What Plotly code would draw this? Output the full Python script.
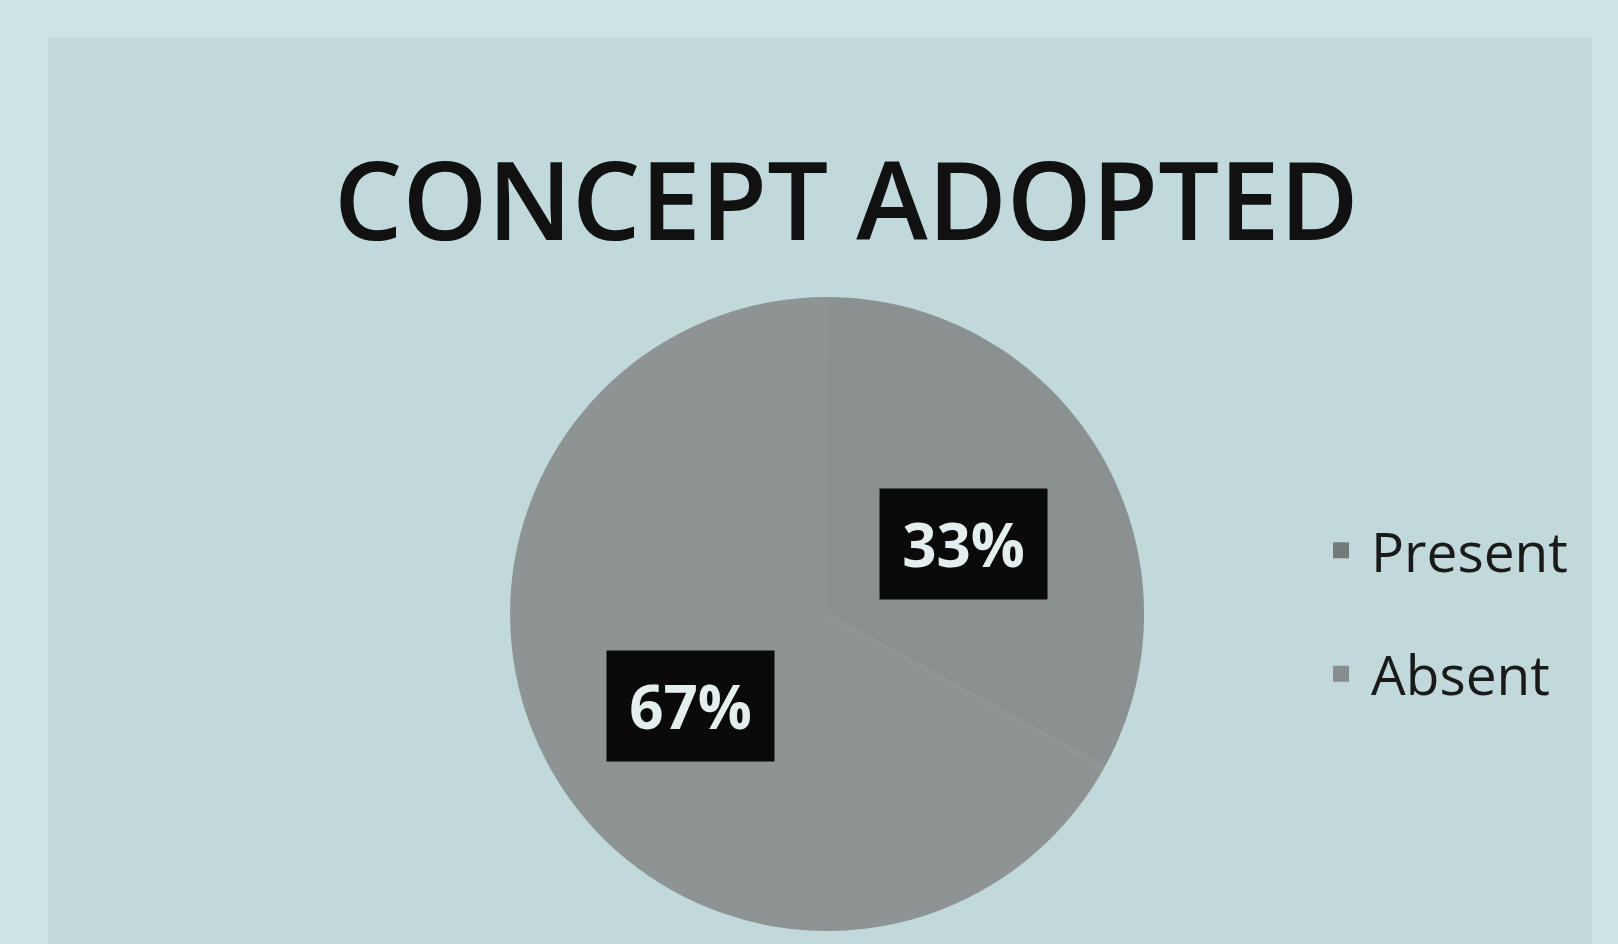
import math
import plotly.graph_objects as go

# ---- data ----
categories = ["Present", "Absent"]
values = [33, 67]
slice_colors = ["#8b9090", "#8e9393"]
legend_colors = ["#737979", "#878d8d"]
title_text = "CONCEPT ADOPTED"

W, H = 1618, 944
# pie domain (paper fractions)
dom_x = [0.3152, 0.7071]
dom_y = [0.0138, 0.6854]

fig = go.Figure()
fig.add_trace(go.Pie(
    labels=categories,
    values=values,
    sort=False,
    direction="clockwise",
    rotation=0,
    marker=dict(colors=slice_colors, line=dict(width=0)),
    textinfo="none",
    hoverinfo="label+percent",
    domain=dict(x=dom_x, y=dom_y),
    showlegend=False,
))

# legend entries (one group per category so spacing can be set)
for cat, col in zip(categories, legend_colors):
    fig.add_trace(go.Scatter(
        x=[None], y=[None], mode="markers", name=cat,
        legendgroup=cat,
        marker=dict(symbol="square", size=16, color=col),
        hoverinfo="skip",
    ))

# percentage labels in black boxes, placed from slice mid-angles
total = sum(values)
cx = (dom_x[0] + dom_x[1]) / 2
cy = (dom_y[0] + dom_y[1]) / 2
r_px = min((dom_x[1] - dom_x[0]) * W, (dom_y[1] - dom_y[0]) * H) / 2
cum = 0
annotations = []
for cat, v in zip(categories, values):
    mid = (cum + v / 2) / total * 2 * math.pi
    cum += v
    dx = 0.5 * r_px * math.sin(mid) / W
    dy = 0.5 * r_px * math.cos(mid) / H - 11 / H
    annotations.append(dict(
        x=cx + dx, y=cy + dy, xref="paper", yref="paper",
        text=f"<b>{round(v / total * 100)}%</b>",
        showarrow=False,
        font=dict(family="Open Sans", size=60, color="#e4eeee"),
        bgcolor="#0a0a0a",
        width=165, height=108,
        align="center", valign="middle",
        xanchor="center", yanchor="middle",
    ))

annotations.append(dict(
    x=846 / W, y=1 - 198 / H, xref="paper", yref="paper",
    text=title_text, showarrow=False,
    font=dict(family="Open Sans", size=108, color="#111111", weight=600),
    xanchor="center", yanchor="middle",
))

fig.update_layout(
    width=W, height=H,
    margin=dict(l=0, r=0, t=0, b=0),
    paper_bgcolor="#cde3e4",
    plot_bgcolor="rgba(0,0,0,0)",
    xaxis=dict(visible=False),
    yaxis=dict(visible=False),
    annotations=annotations,
    shapes=[dict(type="rect", xref="paper", yref="paper",
                 x0=48 / W, x1=1592 / W, y0=0, y1=1 - 38 / H,
                 fillcolor="#c2d9db", line=dict(width=0), layer="below")],
    legend=dict(
        x=1311 / W, y=1 - 508 / H, xanchor="left", yanchor="top",
        font=dict(family="Open Sans", size=55, color="#1a1a1a"),
        bgcolor="rgba(0,0,0,0)",
        itemsizing="trace",
        itemwidth=50,
        tracegroupgap=49,
        traceorder="grouped",
    ),
)

fig.write_html("out.html")
